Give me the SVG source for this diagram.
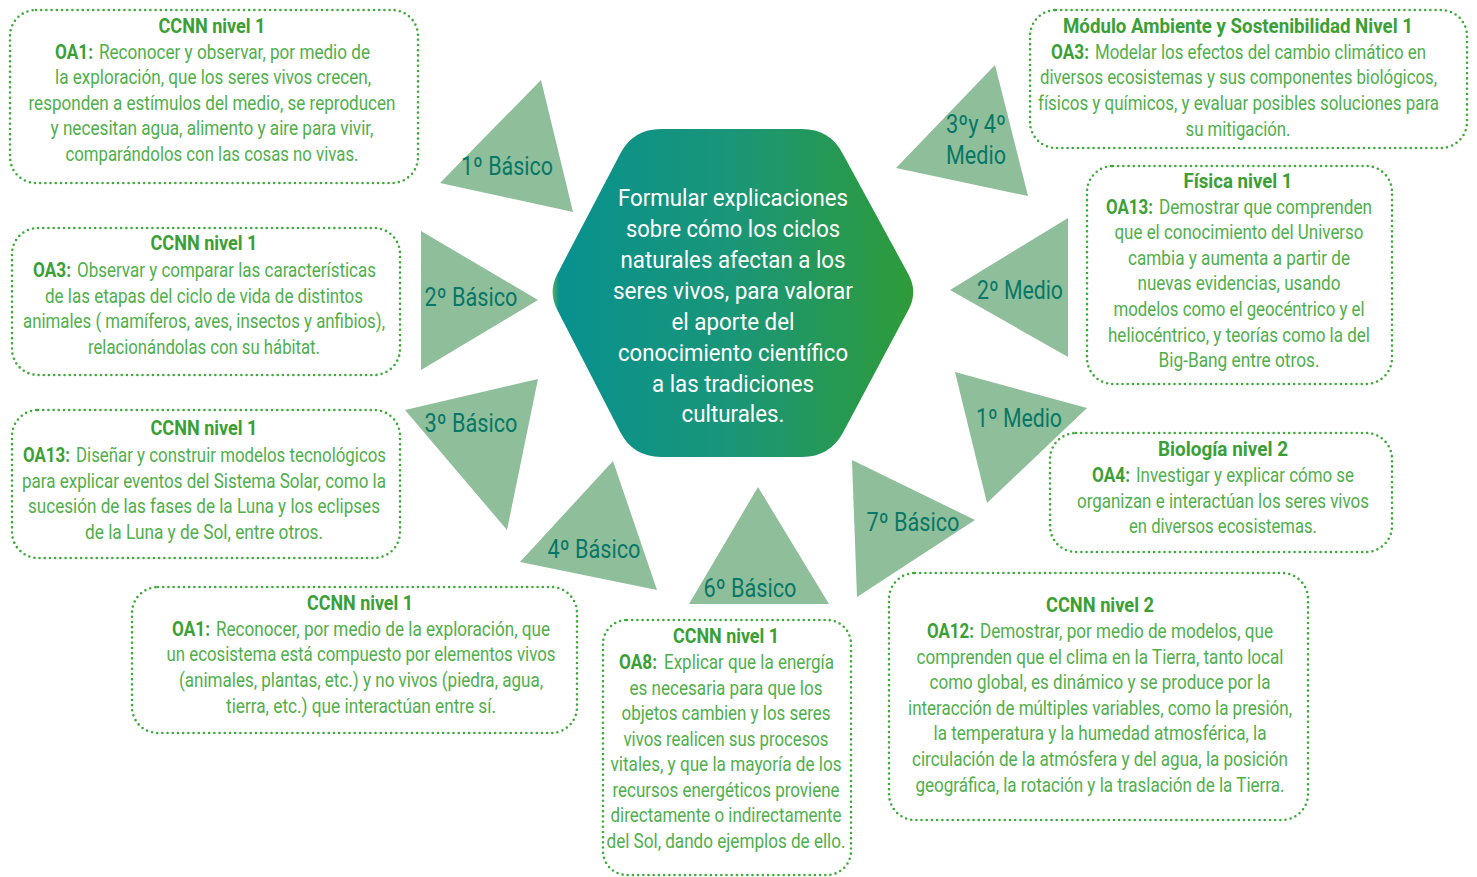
<svg xmlns="http://www.w3.org/2000/svg" width="1477" height="877" viewBox="0 0 1477 877">
<defs>
<linearGradient id="hexg" gradientUnits="userSpaceOnUse" x1="548" y1="0" x2="918" y2="0">
<stop offset="0" stop-color="#8CC63F"/>
<stop offset="0.03" stop-color="#08918F"/>
<stop offset="0.5" stop-color="#1A9678"/>
<stop offset="1" stop-color="#2F9B37"/>
</linearGradient>
<style>
.box{fill:none;stroke:#3DAA3A;stroke-width:2.6;stroke-dasharray:0 5.2;stroke-linecap:round}
.t{font-family:Roboto,"Liberation Sans",sans-serif;font-size:20px;fill:#4FAF4B;text-anchor:middle}
.s{text-anchor:start}
.e{text-anchor:end}
.b{font-weight:bold;fill:#3AA035}
.tri{fill:#8FBE9A}
.lab{font-family:Roboto,"Liberation Sans",sans-serif;font-size:25px;fill:#077767;text-anchor:middle}
.h{font-family:Roboto,"Liberation Sans",sans-serif;font-size:24px;fill:#FFFFFF;text-anchor:middle}
</style>
</defs>
<rect width="1477" height="877" fill="#FFFFFF"/>

<g id="connectors">
<g id="tri-1basico"><polygon class="tri" points="541,80 440,183 573,212"/><text class="lab" x="507" y="175" textLength="92" lengthAdjust="spacingAndGlyphs">1º Básico</text></g>
<g id="tri-2basico"><polygon class="tri" points="421,231 421,370 538,300"/><text class="lab" x="471" y="306" textLength="93" lengthAdjust="spacingAndGlyphs">2º Básico</text></g>
<g id="tri-3basico"><polygon class="tri" points="405,410 538,379 507,530"/><text class="lab" x="471" y="432" textLength="93" lengthAdjust="spacingAndGlyphs">3º Básico</text></g>
<g id="tri-4basico"><polygon class="tri" points="613,461 520,562 657,590"/><text class="lab" x="594" y="558" textLength="93" lengthAdjust="spacingAndGlyphs">4º Básico</text></g>
<g id="tri-6basico"><polygon class="tri" points="758,487 689,604 829,604"/><text class="lab" x="750" y="597" textLength="93" lengthAdjust="spacingAndGlyphs">6º Básico</text></g>
<g id="tri-7basico"><polygon class="tri" points="852,460 975,520 857,597"/><text class="lab" x="913" y="531" textLength="93" lengthAdjust="spacingAndGlyphs">7º Básico</text></g>
<g id="tri-1medio"><polygon class="tri" points="955,372 1087,408 987,503"/><text class="lab" x="1019" y="427" textLength="86" lengthAdjust="spacingAndGlyphs">1º Medio</text></g>
<g id="tri-2medio"><polygon class="tri" points="1068,218 950,290 1068,357"/><text class="lab" x="1020" y="299" textLength="86" lengthAdjust="spacingAndGlyphs">2º Medio</text></g>
<g id="tri-34medio"><polygon class="tri" points="995,65 896,168 1028,196"/><text class="lab" x="976" y="133" textLength="60" lengthAdjust="spacingAndGlyphs">3ºy 4º</text><text class="lab" x="976" y="164" textLength="60" lengthAdjust="spacingAndGlyphs">Medio</text></g>
</g>

<g id="center">
<path d="M661,129 L802,129 Q830,129 842.9,153.9 L908.5,274.4 Q918,292 908.6,309.6 L843.2,432.3 Q830,457 802,457 L661,457 Q633,457 620.2,432.1 L557.2,309.8 Q548,292 557.2,274.2 L620.1,153.9 Q633,129 661,129 Z" fill="url(#hexg)"/>
<text class="h" x="733" y="206" textLength="230" lengthAdjust="spacingAndGlyphs">Formular explicaciones</text>
<text class="h" x="733" y="237" textLength="214" lengthAdjust="spacingAndGlyphs">sobre cómo los ciclos</text>
<text class="h" x="733" y="268" textLength="225" lengthAdjust="spacingAndGlyphs">naturales afectan a los</text>
<text class="h" x="733" y="299" textLength="240" lengthAdjust="spacingAndGlyphs">seres vivos, para valorar</text>
<text class="h" x="733" y="330" textLength="123" lengthAdjust="spacingAndGlyphs">el aporte del</text>
<text class="h" x="733" y="361" textLength="230" lengthAdjust="spacingAndGlyphs">conocimiento científico</text>
<text class="h" x="733" y="392" textLength="162" lengthAdjust="spacingAndGlyphs">a las tradiciones</text>
<text class="h" x="733" y="422" textLength="103" lengthAdjust="spacingAndGlyphs">culturales.</text>
</g>

<g id="box-1basico">
<rect class="box" x="10" y="10" width="408" height="173" rx="26"/>
<text class="t b" x="212" y="33" textLength="107" lengthAdjust="spacingAndGlyphs">CCNN nivel 1</text>
<text class="t s b" x="55" y="59" textLength="38" lengthAdjust="spacingAndGlyphs">OA1:</text>
<text class="t s" x="99" y="59" textLength="271" lengthAdjust="spacingAndGlyphs">Reconocer y observar, por medio de</text>
<text class="t" x="213" y="84" textLength="316" lengthAdjust="spacingAndGlyphs">la exploración, que los seres vivos crecen,</text>
<text class="t" x="212" y="110" textLength="367" lengthAdjust="spacingAndGlyphs">responden a estímulos del medio, se reproducen</text>
<text class="t" x="212" y="135" textLength="323" lengthAdjust="spacingAndGlyphs">y necesitan agua, alimento y aire para vivir,</text>
<text class="t" x="212" y="161" textLength="293" lengthAdjust="spacingAndGlyphs">comparándolos con las cosas no vivas.</text>
</g>

<g id="box-2basico">
<rect class="box" x="12" y="228" width="388" height="147" rx="26"/>
<text class="t b" x="204" y="250" textLength="107" lengthAdjust="spacingAndGlyphs">CCNN nivel 1</text>
<text class="t s b" x="33" y="277" textLength="38" lengthAdjust="spacingAndGlyphs">OA3:</text>
<text class="t s" x="77" y="277" textLength="299" lengthAdjust="spacingAndGlyphs">Observar y comparar las características</text>
<text class="t" x="204" y="303" textLength="318" lengthAdjust="spacingAndGlyphs">de las etapas del ciclo de vida de distintos</text>
<text class="t" x="204" y="328" textLength="362" lengthAdjust="spacingAndGlyphs">animales ( mamíferos, aves, insectos y anfibios),</text>
<text class="t" x="204" y="354" textLength="232" lengthAdjust="spacingAndGlyphs">relacionándolas con su hábitat.</text>
</g>

<g id="box-3basico">
<rect class="box" x="12" y="410" width="388" height="148" rx="26"/>
<text class="t b" x="204" y="435" textLength="107" lengthAdjust="spacingAndGlyphs">CCNN nivel 1</text>
<text class="t s b" x="23" y="462" textLength="47" lengthAdjust="spacingAndGlyphs">OA13:</text>
<text class="t s" x="76" y="462" textLength="310" lengthAdjust="spacingAndGlyphs">Diseñar y construir modelos tecnológicos</text>
<text class="t" x="204" y="488" textLength="364" lengthAdjust="spacingAndGlyphs">para explicar eventos del Sistema Solar, como la</text>
<text class="t" x="204" y="513" textLength="352" lengthAdjust="spacingAndGlyphs">sucesión de las fases de la Luna y los eclipses</text>
<text class="t" x="204" y="539" textLength="238" lengthAdjust="spacingAndGlyphs">de la Luna y de Sol, entre otros.</text>
</g>

<g id="box-4basico">
<rect class="box" x="132" y="587" width="445" height="146" rx="26"/>
<text class="t b" x="360" y="610" textLength="106" lengthAdjust="spacingAndGlyphs">CCNN nivel 1</text>
<text class="t s b" x="172" y="636" textLength="38" lengthAdjust="spacingAndGlyphs">OA1:</text>
<text class="t s" x="216" y="636" textLength="334" lengthAdjust="spacingAndGlyphs">Reconocer, por medio de la exploración, que</text>
<text class="t" x="361" y="661" textLength="389" lengthAdjust="spacingAndGlyphs">un ecosistema está compuesto por elementos vivos</text>
<text class="t" x="361" y="687" textLength="364" lengthAdjust="spacingAndGlyphs">(animales, plantas, etc.) y no vivos (piedra, agua,</text>
<text class="t" x="361" y="713" textLength="270" lengthAdjust="spacingAndGlyphs">tierra, etc.) que interactúan entre sí.</text>
</g>

<g id="box-6basico">
<rect class="box" x="603" y="620" width="248" height="255" rx="24"/>
<text class="t b" x="726" y="643" textLength="106" lengthAdjust="spacingAndGlyphs">CCNN nivel 1</text>
<text class="t s b" x="619" y="669" textLength="38" lengthAdjust="spacingAndGlyphs">OA8:</text>
<text class="t s" x="664" y="669" textLength="170" lengthAdjust="spacingAndGlyphs">Explicar que la energía</text>
<text class="t" x="726" y="695" textLength="193" lengthAdjust="spacingAndGlyphs">es necesaria para que los</text>
<text class="t" x="726" y="720" textLength="209" lengthAdjust="spacingAndGlyphs">objetos cambien y los seres</text>
<text class="t" x="726" y="746" textLength="205" lengthAdjust="spacingAndGlyphs">vivos realicen sus procesos</text>
<text class="t" x="726" y="771" textLength="231" lengthAdjust="spacingAndGlyphs">vitales, y que la mayoría de los</text>
<text class="t" x="726" y="797" textLength="227" lengthAdjust="spacingAndGlyphs">recursos energéticos proviene</text>
<text class="t" x="726" y="822" textLength="231" lengthAdjust="spacingAndGlyphs">directamente o indirectamente</text>
<text class="t" x="726" y="848" textLength="239" lengthAdjust="spacingAndGlyphs">del Sol, dando ejemplos de ello.</text>
</g>

<g id="box-7basico">
<rect class="box" x="889" y="573" width="419" height="247" rx="26"/>
<text class="t b" x="1100" y="612" textLength="108" lengthAdjust="spacingAndGlyphs">CCNN nivel 2</text>
<text class="t s b" x="927" y="638" textLength="47" lengthAdjust="spacingAndGlyphs">OA12:</text>
<text class="t s" x="980" y="638" textLength="293" lengthAdjust="spacingAndGlyphs">Demostrar, por medio de modelos, que</text>
<text class="t" x="1100" y="664" textLength="367" lengthAdjust="spacingAndGlyphs">comprenden que el clima en la Tierra, tanto local</text>
<text class="t" x="1100" y="689" textLength="341" lengthAdjust="spacingAndGlyphs">como global, es dinámico y se produce por la</text>
<text class="t" x="1100" y="715" textLength="384" lengthAdjust="spacingAndGlyphs">interacción de múltiples variables, como la presión,</text>
<text class="t" x="1100" y="740" textLength="333" lengthAdjust="spacingAndGlyphs">la temperatura y la humedad atmosférica, la</text>
<text class="t" x="1100" y="766" textLength="376" lengthAdjust="spacingAndGlyphs">circulación de la atmósfera y del agua, la posición</text>
<text class="t" x="1100" y="792" textLength="369" lengthAdjust="spacingAndGlyphs">geográfica, la rotación y la traslación de la Tierra.</text>
</g>

<g id="box-1medio">
<rect class="box" x="1050" y="433" width="342" height="119" rx="26"/>
<text class="t b" x="1223" y="456" textLength="130" lengthAdjust="spacingAndGlyphs">Biología nivel 2</text>
<text class="t s b" x="1092" y="482" textLength="38" lengthAdjust="spacingAndGlyphs">OA4:</text>
<text class="t s" x="1136" y="482" textLength="218" lengthAdjust="spacingAndGlyphs">Investigar y explicar cómo se</text>
<text class="t" x="1223" y="508" textLength="292" lengthAdjust="spacingAndGlyphs">organizan e interactúan los seres vivos</text>
<text class="t" x="1223" y="533" textLength="188" lengthAdjust="spacingAndGlyphs">en diversos ecosistemas.</text>
</g>

<g id="box-2medio">
<rect class="box" x="1087" y="166" width="305" height="218" rx="26"/>
<text class="t b" x="1238" y="188" textLength="109" lengthAdjust="spacingAndGlyphs">Física nivel 1</text>
<text class="t s b" x="1106" y="214" textLength="47" lengthAdjust="spacingAndGlyphs">OA13:</text>
<text class="t s" x="1159" y="214" textLength="213" lengthAdjust="spacingAndGlyphs">Demostrar que comprenden</text>
<text class="t" x="1239" y="239" textLength="249" lengthAdjust="spacingAndGlyphs">que el conocimiento del Universo</text>
<text class="t" x="1239" y="265" textLength="222" lengthAdjust="spacingAndGlyphs">cambia y aumenta a partir de</text>
<text class="t" x="1239" y="290" textLength="203" lengthAdjust="spacingAndGlyphs">nuevas evidencias, usando</text>
<text class="t" x="1239" y="316" textLength="251" lengthAdjust="spacingAndGlyphs">modelos como el geocéntrico y el</text>
<text class="t" x="1239" y="342" textLength="262" lengthAdjust="spacingAndGlyphs">heliocéntrico, y teorías como la del</text>
<text class="t" x="1239" y="367" textLength="161" lengthAdjust="spacingAndGlyphs">Big-Bang entre otros.</text>
</g>

<g id="box-34medio">
<rect class="box" x="1030" y="10" width="437" height="138" rx="26"/>
<text class="t b" x="1238" y="33" textLength="350" lengthAdjust="spacingAndGlyphs">Módulo Ambiente y Sostenibilidad Nivel 1</text>
<text class="t s b" x="1051" y="59" textLength="38" lengthAdjust="spacingAndGlyphs">OA3:</text>
<text class="t e" x="1426" y="59" textLength="331" lengthAdjust="spacingAndGlyphs">Modelar los efectos del cambio climático en</text>
<text class="t e" x="1437" y="84" textLength="397" lengthAdjust="spacingAndGlyphs">diversos ecosistemas y sus componentes biológicos,</text>
<text class="t e" x="1439" y="110" textLength="401" lengthAdjust="spacingAndGlyphs">físicos y químicos, y evaluar posibles soluciones para</text>
<text class="t" x="1238" y="136" textLength="105" lengthAdjust="spacingAndGlyphs">su mitigación.</text>
</g>
</svg>
